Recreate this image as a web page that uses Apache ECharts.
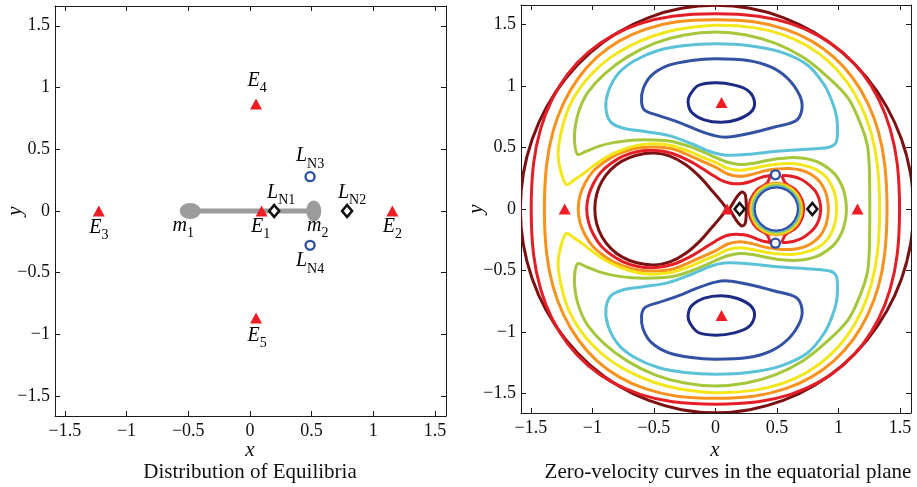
<!DOCTYPE html>
<html>
<head>
<meta charset="utf-8">
<script src="https://cdn.jsdelivr.net/npm/echarts@6/dist/echarts.min.js"></script>
<style>
  html, body { margin: 0; padding: 0; background: #fff; }
  #chart { width: 917px; height: 487px; }
</style>
</head>
<body>
<div id="chart"></div>
<script>
// ---- tick values ----
const xTicks = [-1.5, -1, -0.5, 0, 0.5, 1, 1.5];
const yTicks = [-1.5, -1, -0.5, 0, 0.5, 1, 1.5];

// ---- equilibria ----
const eqSub = ['1', '2', '3', '4', '5'];
const eqX = [0.095, 1.155, -1.225, 0.05, 0.05];
const eqY = [0, 0, 0, 0.866, -0.866];

const lnSub = ['N1', 'N2', 'N3', 'N4'];
const lnX = [0.197, 0.788, 0.488, 0.488];
const lnY = [0, 0, 0.278, -0.278];

const massSub = ['1', '2'];
const massX = [-0.484, 0.518];
const massY = [0, 0];
const rodX = [-0.47, 0.5];

// ---- zero-velocity curves ----
const maroonOuter = [[1.61,0],[1.586,0.288],[1.513,0.567],[1.394,0.829],[1.233,1.066],[1.035,1.27],[0.805,1.436],[0.551,1.558],[0.28,1.633],[0,1.658],[-0.275,1.633],[-0.542,1.558],[-0.793,1.436],[-1.019,1.27],[-1.214,1.066],[-1.373,0.829],[-1.489,0.567],[-1.561,0.288],[-1.585,0],[-1.561,-0.288],[-1.489,-0.567],[-1.373,-0.829],[-1.214,-1.066],[-1.019,-1.27],[-0.793,-1.436],[-0.542,-1.558],[-0.275,-1.633],[0,-1.658],[0.28,-1.633],[0.551,-1.558],[0.805,-1.436],[1.035,-1.27],[1.233,-1.066],[1.394,-0.829],[1.513,-0.567],[1.586,-0.288]];
const maroonDrop = [[0.095,0],[0.04,0.07],[-0.02,0.14],[-0.12,0.255],[-0.24,0.36],[-0.37,0.43],[-0.5,0.455],[-0.64,0.438],[-0.76,0.39],[-0.85,0.32],[-0.92,0.23],[-0.965,0.12],[-0.98,0],[-0.965,-0.12],[-0.92,-0.23],[-0.85,-0.32],[-0.76,-0.39],[-0.64,-0.438],[-0.5,-0.455],[-0.37,-0.43],[-0.24,-0.36],[-0.12,-0.255],[-0.02,-0.14],[0.04,-0.07],[0.095,0]];
const maroonLoop = [[0.115,0],[0.15,0.06],[0.185,0.112],[0.218,0.138],[0.242,0.118],[0.25,0.06],[0.252,0],[0.25,-0.06],[0.242,-0.118],[0.218,-0.138],[0.185,-0.112],[0.15,-0.06],[0.115,0]];

const redOuter = [[1.497,0],[1.478,0.369],[1.421,0.65],[1.328,0.891],[1.199,1.099],[1.036,1.272],[0.84,1.409],[0.612,1.508],[0.348,1.568],[0,1.588],[-0.348,1.568],[-0.612,1.508],[-0.84,1.409],[-1.036,1.272],[-1.199,1.099],[-1.328,0.891],[-1.421,0.65],[-1.478,0.369],[-1.497,0],[-1.478,-0.369],[-1.421,-0.65],[-1.328,-0.891],[-1.199,-1.099],[-1.036,-1.272],[-0.84,-1.409],[-0.612,-1.508],[-0.348,-1.568],[0,-1.588],[0.348,-1.568],[0.612,-1.508],[0.84,-1.409],[1.036,-1.272],[1.199,-1.099],[1.328,-0.891],[1.421,-0.65],[1.478,-0.369]];
const redArmLeft = [[0.445,0.272],[0.39,0.262],[0.34,0.245],[0.28,0.222],[0.23,0.21],[0.17,0.205],[0.12,0.21],[0.06,0.228],[0,0.262],[-0.1,0.325],[-0.2,0.385],[-0.35,0.452],[-0.5,0.478],[-0.63,0.468],[-0.75,0.43],[-0.85,0.37],[-0.93,0.3],[-0.99,0.21],[-1.03,0.11],[-1.046,0],[-1.03,-0.11],[-0.99,-0.21],[-0.93,-0.3],[-0.85,-0.37],[-0.75,-0.43],[-0.63,-0.468],[-0.5,-0.478],[-0.35,-0.452],[-0.2,-0.385],[-0.1,-0.325],[0,-0.262],[0.06,-0.228],[0.12,-0.21],[0.17,-0.205],[0.23,-0.21],[0.28,-0.222],[0.34,-0.245],[0.39,-0.262],[0.445,-0.272]];
const redRingLeft = [[0.445,-0.272],[0.419,-0.209],[0.338,-0.157],[0.286,-0.076],[0.273,0],[0.286,0.076],[0.338,0.157],[0.419,0.209],[0.445,0.272]];
const redRingRight = [[0.54,0.272],[0.571,0.209],[0.652,0.157],[0.704,0.076],[0.717,0],[0.704,-0.076],[0.652,-0.157],[0.571,-0.209],[0.54,-0.272]];
const redArmRight = [[0.54,0.272],[0.59,0.27],[0.638,0.262],[0.7,0.24],[0.747,0.209],[0.8,0.16],[0.83,0.115],[0.85,0.055],[0.856,0],[0.85,-0.055],[0.83,-0.115],[0.8,-0.16],[0.747,-0.209],[0.7,-0.24],[0.638,-0.262],[0.59,-0.27],[0.54,-0.272]];

const orangeOuter = [[1.395,0],[1.377,0.358],[1.325,0.63],[1.237,0.864],[1.117,1.066],[0.965,1.233],[0.783,1.366],[0.571,1.462],[0.324,1.521],[0,1.54],[-0.324,1.521],[-0.571,1.462],[-0.783,1.366],[-0.965,1.233],[-1.113,1.066],[-1.233,0.864],[-1.32,0.63],[-1.372,0.358],[-1.39,0],[-1.372,-0.358],[-1.32,-0.63],[-1.233,-0.864],[-1.113,-1.066],[-0.965,-1.233],[-0.783,-1.366],[-0.571,-1.462],[-0.324,-1.521],[0,-1.54],[0.324,-1.521],[0.571,-1.462],[0.783,-1.366],[0.965,-1.233],[1.117,-1.066],[1.237,-0.864],[1.325,-0.63],[1.377,-0.358]];
const orangeInner = [[0.918,0],[0.912,0.07],[0.895,0.14],[0.85,0.22],[0.78,0.28],[0.7,0.315],[0.6,0.33],[0.5,0.325],[0.4,0.31],[0.3,0.282],[0.2,0.266],[0.1,0.285],[0,0.34],[-0.1,0.385],[-0.2,0.43],[-0.35,0.49],[-0.5,0.505],[-0.6,0.5],[-0.7,0.48],[-0.82,0.435],[-0.92,0.37],[-1,0.3],[-1.06,0.21],[-1.1,0.11],[-1.115,0],[-1.1,-0.11],[-1.06,-0.21],[-1,-0.3],[-0.92,-0.37],[-0.82,-0.435],[-0.7,-0.48],[-0.6,-0.5],[-0.5,-0.505],[-0.35,-0.49],[-0.2,-0.43],[-0.1,-0.385],[0,-0.34],[0.1,-0.285],[0.2,-0.266],[0.3,-0.282],[0.4,-0.31],[0.5,-0.325],[0.6,-0.33],[0.7,-0.315],[0.78,-0.28],[0.85,-0.22],[0.895,-0.14],[0.912,-0.07]];

const yellowC = [[-1.212,0.198],[-1.26,0.32],[-1.278,0.465],[-1.24,0.68],[-1.185,0.84],[-1.1,0.985],[-0.99,1.115],[-0.855,1.232],[-0.69,1.33],[-0.5,1.41],[-0.31,1.46],[0,1.495],[0.31,1.476],[0.546,1.419],[0.749,1.326],[0.924,1.197],[1.069,1.035],[1.184,0.839],[1.268,0.611],[1.318,0.348],[1.335,0],[1.318,-0.348],[1.268,-0.611],[1.184,-0.839],[1.069,-1.035],[0.924,-1.197],[0.749,-1.326],[0.546,-1.419],[0.31,-1.476],[0,-1.495],[-0.31,-1.46],[-0.5,-1.41],[-0.69,-1.33],[-0.855,-1.232],[-0.99,-1.115],[-1.1,-0.985],[-1.185,-0.84],[-1.24,-0.68],[-1.278,-0.465],[-1.26,-0.32],[-1.212,-0.198],[-1.15,-0.235],[-1.07,-0.29],[-0.98,-0.36],[-0.88,-0.425],[-0.76,-0.48],[-0.63,-0.518],[-0.5,-0.53],[-0.35,-0.515],[-0.2,-0.465],[-0.1,-0.42],[0,-0.38],[0.1,-0.33],[0.2,-0.315],[0.3,-0.33],[0.4,-0.35],[0.5,-0.365],[0.62,-0.37],[0.72,-0.355],[0.82,-0.32],[0.9,-0.26],[0.95,-0.18],[0.978,-0.09],[0.985,0],[0.978,0.09],[0.95,0.18],[0.9,0.26],[0.82,0.32],[0.72,0.355],[0.62,0.37],[0.5,0.365],[0.4,0.35],[0.3,0.33],[0.2,0.315],[0.1,0.33],[0,0.38],[-0.1,0.42],[-0.2,0.465],[-0.35,0.515],[-0.5,0.53],[-0.63,0.518],[-0.76,0.48],[-0.88,0.425],[-0.98,0.36],[-1.07,0.29],[-1.15,0.235]];

const greenC = [[-1.12,0.445],[-1.145,0.55],[-1.138,0.68],[-1.103,0.816],[-1.035,0.951],[-0.9,1.1],[-0.715,1.238],[-0.491,1.349],[-0.25,1.416],[0,1.44],[0.25,1.416],[0.49,1.347],[0.713,1.234],[0.906,1.08],[1.08,0.9],[1.185,0.68],[1.235,0.52],[1.25,0.36],[1.254,0.18],[1.255,0],[1.254,-0.18],[1.25,-0.36],[1.235,-0.52],[1.185,-0.68],[1.08,-0.9],[0.906,-1.08],[0.713,-1.234],[0.49,-1.347],[0.25,-1.416],[0,-1.44],[-0.25,-1.416],[-0.491,-1.349],[-0.715,-1.238],[-0.9,-1.1],[-1.035,-0.951],[-1.103,-0.816],[-1.138,-0.68],[-1.145,-0.55],[-1.12,-0.445],[-1.05,-0.47],[-0.95,-0.51],[-0.83,-0.54],[-0.68,-0.56],[-0.5,-0.562],[-0.35,-0.55],[-0.2,-0.505],[-0.1,-0.465],[0,-0.42],[0.1,-0.38],[0.2,-0.362],[0.3,-0.37],[0.4,-0.39],[0.5,-0.408],[0.6,-0.418],[0.7,-0.415],[0.78,-0.4],[0.856,-0.371],[0.965,-0.29],[1.032,-0.18],[1.06,-0.07],[1.065,0],[1.06,0.07],[1.032,0.18],[0.965,0.29],[0.856,0.371],[0.78,0.4],[0.7,0.415],[0.6,0.418],[0.5,0.408],[0.4,0.39],[0.3,0.37],[0.2,0.362],[0.1,0.38],[0,0.42],[-0.1,0.465],[-0.2,0.505],[-0.35,0.55],[-0.5,0.562],[-0.68,0.56],[-0.83,0.54],[-0.95,0.51],[-1.05,0.47]];

const cyanUpper = [[0,1.344],[-0.247,1.33],[-0.465,1.29],[-0.655,1.209],[-0.791,1.1],[-0.872,0.951],[-0.89,0.816],[-0.85,0.707],[-0.74,0.655],[-0.573,0.631],[-0.383,0.599],[-0.193,0.531],[-0.05,0.47],[0.07,0.44],[0.264,0.445],[0.5,0.47],[0.807,0.49],[0.93,0.505],[0.98,0.54],[0.993,0.62],[0.985,0.75],[0.95,0.87],[0.888,1.005],[0.753,1.168],[0.535,1.276],[0.264,1.331]];
const cyanLower = [[0,-1.344],[-0.247,-1.33],[-0.465,-1.29],[-0.655,-1.209],[-0.791,-1.1],[-0.872,-0.951],[-0.89,-0.816],[-0.85,-0.707],[-0.74,-0.655],[-0.573,-0.631],[-0.383,-0.599],[-0.193,-0.531],[-0.05,-0.47],[0.07,-0.44],[0.264,-0.445],[0.5,-0.47],[0.807,-0.49],[0.93,-0.505],[0.98,-0.54],[0.993,-0.62],[0.985,-0.75],[0.95,-0.87],[0.888,-1.005],[0.753,-1.168],[0.535,-1.276],[0.264,-1.331]];

const blueUpper = [[0,1.222],[-0.193,1.209],[-0.383,1.168],[-0.519,1.087],[-0.587,0.978],[-0.6,0.87],[-0.573,0.802],[-0.465,0.762],[-0.302,0.707],[-0.139,0.64],[0,0.595],[0.1,0.585],[0.264,0.612],[0.481,0.667],[0.657,0.721],[0.704,0.816],[0.685,0.924],[0.59,1.06],[0.454,1.154],[0.264,1.209]];
const blueLower = [[0,-1.222],[-0.193,-1.209],[-0.383,-1.168],[-0.519,-1.087],[-0.587,-0.978],[-0.6,-0.87],[-0.573,-0.802],[-0.465,-0.762],[-0.302,-0.707],[-0.139,-0.64],[0,-0.595],[0.1,-0.585],[0.264,-0.612],[0.481,-0.667],[0.657,-0.721],[0.704,-0.816],[0.685,-0.924],[0.59,-1.06],[0.454,-1.154],[0.264,-1.209]];

const navyUpper = [[0,1.027],[-0.139,1.005],[-0.206,0.93],[-0.222,0.87],[-0.195,0.79],[-0.09,0.725],[0.05,0.705],[0.18,0.728],[0.29,0.79],[0.318,0.87],[0.27,0.96],[0.155,1.008]];
const navyLower = [[0,-1.027],[-0.139,-1.005],[-0.206,-0.93],[-0.222,-0.87],[-0.195,-0.79],[-0.09,-0.725],[0.05,-0.705],[0.18,-0.728],[0.29,-0.79],[0.318,-0.87],[0.27,-0.96],[0.155,-1.008]];

// small rings around m2
const orangeRing = [[0.707,0],[0.679,0.106],[0.601,0.184],[0.495,0.212],[0.389,0.184],[0.311,0.106],[0.283,0],[0.311,-0.106],[0.389,-0.184],[0.495,-0.212],[0.601,-0.184],[0.679,-0.106]];
const yellowRing = [[0.698,0],[0.671,0.102],[0.597,0.176],[0.495,0.203],[0.394,0.176],[0.319,0.102],[0.292,0],[0.319,-0.102],[0.394,-0.176],[0.495,-0.203],[0.597,-0.176],[0.671,-0.102]];
const greenRing = [[0.689,0],[0.663,0.097],[0.592,0.168],[0.495,0.194],[0.398,0.168],[0.327,0.097],[0.301,0],[0.327,-0.097],[0.398,-0.168],[0.495,-0.194],[0.592,-0.168],[0.663,-0.097]];
const cyanRing = [[0.68,0],[0.655,0.093],[0.588,0.16],[0.495,0.185],[0.403,0.16],[0.335,0.093],[0.31,0],[0.335,-0.093],[0.403,-0.16],[0.495,-0.185],[0.588,-0.16],[0.655,-0.093]];
const blueRing = [[0.671,0],[0.647,0.088],[0.583,0.152],[0.495,0.176],[0.407,0.152],[0.343,0.088],[0.319,0],[0.343,-0.088],[0.407,-0.152],[0.495,-0.176],[0.583,-0.152],[0.647,-0.088]];

// ---- styling ----
const serif = '"Liberation Serif", "Times New Roman", serif';
const MAROON = '#7b1113', RED = '#e41e26', ORANGE = '#f7921e', YELLOW = '#f3e61a',
      GREEN = '#a5c73c', CYAN = '#5bc2d7', BLUE = '#3452a4', NAVY = '#1d2a83';
const TRI = '#ee1c25', RING = '#2f4fa3';

// [points, colour, width, closed]
const contourParts = [
  [maroonOuter, MAROON, 3, true], [maroonDrop, MAROON, 3, false], [maroonLoop, MAROON, 3, false],
  [redOuter, RED, 3, true], [redArmLeft, RED, 3, false], [redArmRight, RED, 3, false],
  [redRingLeft, RED, 3, false], [redRingRight, RED, 3, false],
  [orangeOuter, ORANGE, 3, true], [orangeInner, ORANGE, 3, true],
  [yellowC, YELLOW, 3, true], [greenC, GREEN, 3, true],
  [cyanUpper, CYAN, 3, true], [cyanLower, CYAN, 3, true],
  [blueUpper, BLUE, 3, true], [blueLower, BLUE, 3, true],
  [navyUpper, NAVY, 3, true], [navyLower, NAVY, 3, true],
  [orangeRing, ORANGE, 2.2, true], [yellowRing, YELLOW, 2.2, true], [greenRing, GREEN, 2.2, true],
  [cyanRing, CYAN, 2.2, true], [blueRing, BLUE, 2.2, true]
];

// label offsets (pixels) relative to each marker
const eqLabelOffset = [[-1, 18], [0, 18], [0, 19], [1, -21], [1, 20]];
const lnLabelOffset = [[7, -16], [5, -16], [0, -18], [0, 18]];
const massLabelOffset = [[-7, 17], [4, 17]];

const fmt = v => (v < 0 ? '\u2212' : '') + Math.abs(v);
const rich = {
  i: { fontFamily: serif, fontStyle: 'italic', fontSize: 20, color: '#000', padding: [0, 0, 5, 0], verticalAlign: 'bottom' },
  s: { fontFamily: serif, fontSize: 14, color: '#000', verticalAlign: 'bottom' }
};

function xAx(grid, pos) {
  return {
    gridIndex: grid, type: 'value', position: pos, min: -1.58, max: 1.59,
    axisLine: { show: true, onZero: false, lineStyle: { color: '#1a1a1a', width: 1 } },
    axisTick: { show: true, inside: true, length: 5, customValues: xTicks, lineStyle: { color: '#1a1a1a' } },
    axisLabel: { show: pos === 'bottom', customValues: xTicks, formatter: fmt, margin: 6,
                 color: '#111', fontFamily: serif, fontSize: 18 },
    splitLine: { show: false }
  };
}
function yAx(grid, pos) {
  return {
    gridIndex: grid, type: 'value', position: pos, min: -1.66, max: 1.66,
    axisLine: { show: true, onZero: false, lineStyle: { color: '#1a1a1a', width: 1 } },
    axisTick: { show: true, inside: true, length: 5, customValues: yTicks, lineStyle: { color: '#1a1a1a' } },
    axisLabel: { show: pos === 'left', customValues: yTicks, formatter: fmt, margin: 5,
                 color: '#111', fontFamily: serif, fontSize: 18 },
    splitLine: { show: false }
  };
}

function markerSeries(ax, withLabels) {
  const lab = (main, sub, off) => withLabels
    ? { show: true, position: 'inside', offset: off, formatter: '{i|' + main + '}{s|' + sub + '}', rich }
    : { show: false };
  return [
    {
      type: 'scatter', xAxisIndex: ax, yAxisIndex: ax, symbol: 'triangle', symbolSize: [12, 11],
      itemStyle: { color: TRI, opacity: 1 }, silent: true, z: 5,
      data: eqX.map((x, i) => ({ value: [x, eqY[i]], label: lab('E', eqSub[i], eqLabelOffset[i]) }))
    },
    {
      type: 'scatter', xAxisIndex: ax, yAxisIndex: ax, symbol: 'diamond', symbolSize: [10, 12],
      itemStyle: { color: '#fff', borderColor: '#111', borderWidth: 2.6, opacity: 1 }, silent: true, z: 5,
      data: lnX.slice(0, 2).map((x, i) => ({ value: [x, lnY[i]], label: lab('L', lnSub[i], lnLabelOffset[i]) }))
    },
    {
      type: 'scatter', xAxisIndex: ax, yAxisIndex: ax, symbol: 'circle', symbolSize: 9,
      itemStyle: { color: '#fff', borderColor: RING, borderWidth: 2.4, opacity: 1 }, silent: true, z: 5,
      data: lnX.slice(2).map((x, i) => ({ value: [x, lnY[i + 2]], label: lab('L', lnSub[i + 2], lnLabelOffset[i + 2]) }))
    }
  ];
}

// one custom series per traced curve: points go through the axis scales (api.coord),
// and zrender's bezier smoothing joins them
function curveSeries(points, color, width, closed) {
  return {
    type: 'custom', xAxisIndex: 2, yAxisIndex: 2, clip: true, silent: true, z: 2,
    data: points,
    renderItem: (params, api) => {
      if (params.dataIndex !== 0) return null;
      const px = points.map(p => api.coord(p));
      return {
        type: closed ? 'polygon' : 'polyline',
        shape: { points: px, smooth: 0.33 },
        style: { fill: 'none', stroke: color, lineWidth: width, lineJoin: 'round' }
      };
    }
  };
}

const series = [];

// left panel: rod and the two masses
series.push({
  type: 'line', xAxisIndex: 0, yAxisIndex: 0, data: rodX.map(x => [x, 0]),
  showSymbol: false, symbol: 'none', silent: true, lineStyle: { color: '#9c9c9c', width: 5 }, z: 3
});
series.push({
  type: 'scatter', xAxisIndex: 0, yAxisIndex: 0, silent: true, z: 4,
  itemStyle: { color: '#9c9c9c', opacity: 1 },
  data: massX.map((x, i) => ({
    value: [x, massY[i]], symbolSize: i === 0 ? [21, 16] : [15, 21],
    label: { show: true, position: 'inside', offset: massLabelOffset[i],
             formatter: '{i|m}{s|' + massSub[i] + '}', rich }
  }))
});
series.push(...markerSeries(0, true));

// right panel: contour curves then markers
contourParts.forEach(([pts, color, width, closed]) => series.push(curveSeries(pts, color, width, closed)));
series.push(...markerSeries(2, false));

const chart = echarts.init(document.getElementById('chart'));
chart.setOption({
  animation: false,
  backgroundColor: '#fff',
  grid: [
    { left: 55, top: 6, width: 391, height: 410 },
    { left: 521, top: 5, width: 390, height: 408 }
  ],
  xAxis: [xAx(0, 'bottom'), xAx(0, 'top'), xAx(1, 'bottom'), xAx(1, 'top')],
  yAxis: [yAx(0, 'left'), yAx(0, 'right'), yAx(1, 'left'), yAx(1, 'right')],
  graphic: [
    { type: 'text', x: 250, y: 450, style: { text: 'x', font: 'italic 21px ' + serif, fill: '#111', textAlign: 'center', textVerticalAlign: 'middle' } },
    { type: 'text', x: 15, y: 211, rotation: Math.PI / 2, style: { text: 'y', font: 'italic 21px ' + serif, fill: '#111', textAlign: 'center', textVerticalAlign: 'middle' } },
    { type: 'text', x: 250, y: 472, style: { text: 'Distribution of Equilibria', font: '21px ' + serif, fill: '#111', textAlign: 'center', textVerticalAlign: 'middle' } },
    { type: 'text', x: 715, y: 450, style: { text: 'x', font: 'italic 21px ' + serif, fill: '#111', textAlign: 'center', textVerticalAlign: 'middle' } },
    { type: 'text', x: 476, y: 209, rotation: Math.PI / 2, style: { text: 'y', font: 'italic 21px ' + serif, fill: '#111', textAlign: 'center', textVerticalAlign: 'middle' } },
    { type: 'text', x: 728, y: 472, style: { text: 'Zero-velocity curves in the equatorial plane', font: '21px ' + serif, fill: '#111', textAlign: 'center', textVerticalAlign: 'middle' } }
  ],
  series
});

window.addEventListener('resize', () => chart.resize());
</script>
</body>
</html>
